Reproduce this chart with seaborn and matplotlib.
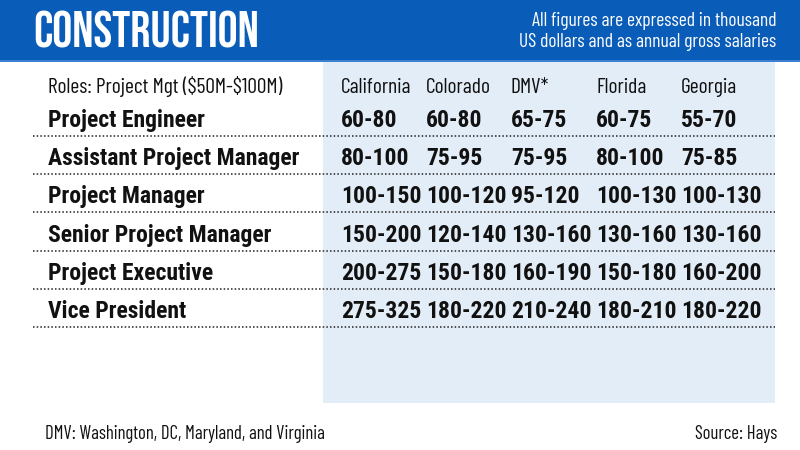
import matplotlib
matplotlib.use("Agg")
import matplotlib.pyplot as plt
import seaborn as sns
from matplotlib import font_manager as fm
from matplotlib.patches import Rectangle

# ---------------- data ----------------
title = "CONSTRUCTION"
subtitle = ["All figures are expressed in thousand",
            "US dollars and as annual gross salaries"]
header_label = "Roles: Project Mgt ($50M-$100M)"
states = ["California", "Colorado", "DMV*", "Florida", "Georgia"]
roles = ["Project Engineer", "Assistant Project Manager", "Project Manager",
         "Senior Project Manager", "Project Executive", "Vice President"]
california = ["60-80", "80-100", "100-150", "150-200", "200-275", "275-325"]
colorado = ["60-80", "75-95", "100-120", "120-140", "150-180", "180-220"]
dmv = ["65-75", "75-95", "95-120", "130-160", "160-190", "210-240"]
florida = ["60-75", "80-100", "100-130", "130-160", "150-180", "180-210"]
georgia = ["55-70", "75-85", "100-130", "130-160", "160-200", "180-220"]
footnote = "DMV: Washington, DC, Maryland, and Virginia"
source = "Source: Hays"

columns = [california, colorado, dmv, florida, georgia]

# ---------------- fonts ----------------
faces = {}
for f in fm.fontManager.ttflist:
    w = f.weight if isinstance(f.weight, int) else 400
    faces.setdefault(f.name, set()).add(w)


def has(name, min_w=0):
    return name in faces and max(faces[name]) >= min_w


def pick(cands):
    for c in cands:
        if c in faces:
            return [c, "DejaVu Sans"]
    return ["DejaVu Sans"]


BOLD = pick(["Roboto Condensed", "Barlow Condensed"])
REG = pick(["Barlow Condensed", "Roboto Condensed"])

if has("Oswald", 700):
    TITLE, TSIZE, TWEIGHT = ["Oswald", "DejaVu Sans"], 28, "bold"
elif has("Bebas Neue"):
    TITLE, TSIZE, TWEIGHT = ["Bebas Neue", "DejaVu Sans"], 36, "normal"
elif has("Anton"):
    TITLE, TSIZE, TWEIGHT = ["Anton", "DejaVu Sans"], 27, "normal"
else:
    TITLE, TSIZE, TWEIGHT = ["Barlow Condensed", "DejaVu Sans"], 32, "heavy"

# ---------------- style ----------------
sns.set_theme(style="white")
plt.rcParams["font.family"] = REG
plt.rcParams["text.parse_math"] = False

BLUE = "#0a5cb9"
PANEL = "#e3edf7"
INK = "#111111"

fig = plt.figure(figsize=(8, 4.5), dpi=100)
ax = fig.add_axes([0, 0, 1, 1])
ax.set_xlim(0, 800)
ax.set_ylim(450, 0)
ax.axis("off")
fig.patch.set_facecolor("white")

# header band
ax.add_patch(Rectangle((0, 0), 800, 60, facecolor=BLUE, edgecolor="none"))
ax.add_patch(Rectangle((0, 60), 800, 2, facecolor="#3d7fd0", edgecolor="none"))
ax.text(33, 47, title, color="white", fontsize=TSIZE, fontweight=TWEIGHT,
        va="baseline", ha="left", family=TITLE)
ax.text(776, 26, subtitle[0], color="white", fontsize=14, ha="right", va="baseline")
ax.text(776, 47, subtitle[1], color="white", fontsize=14, ha="right", va="baseline")

# light panel behind the value columns
ax.add_patch(Rectangle((323, 62), 452, 341, facecolor=PANEL, edgecolor="none"))

left_x = 48
col_x0, col_dx = 341, 85
head_base = 93
row_base0, row_dy = 127, 38.2

ax.text(left_x, head_base, header_label, fontsize=15.5, color=INK, va="baseline")
for j, st in enumerate(states):
    ax.text(col_x0 + j * col_dx, head_base, st, fontsize=15.5, color=INK, va="baseline")

for i, role in enumerate(roles):
    yb = row_base0 + i * row_dy
    ax.text(left_x, yb, role, fontsize=17, fontweight="bold", color=INK,
            va="baseline", family=BOLD)
    for j, col in enumerate(columns):
        ax.text(col_x0 + j * col_dx, yb, col[i], fontsize=17, fontweight="bold",
                color=INK, va="baseline", family=BOLD)
    ax.plot([33, 775], [yb + 9, yb + 9], color="#222222", lw=1.1,
            linestyle=(0, (1, 1.4)))

ax.text(45, 439, footnote, fontsize=13.5, color=INK, va="baseline")
ax.text(777, 439, source, fontsize=13.5, color=INK, va="baseline", ha="right")

fig.savefig("out.png", dpi=100)
